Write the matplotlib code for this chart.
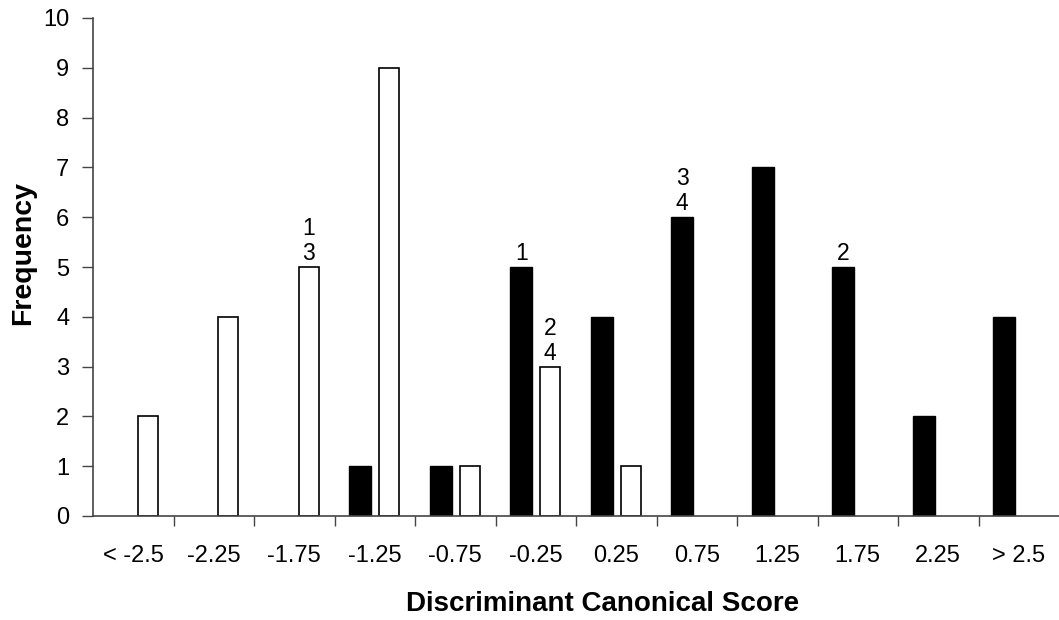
import matplotlib
matplotlib.use("Agg")
import matplotlib.pyplot as plt
import numpy as np

categories = ["< -2.5", "-2.25", "-1.75", "-1.25", "-0.75", "-0.25",
              "0.25", "0.75", "1.25", "1.75", "2.25", "> 2.5"]
black_vals = [0, 0, 0, 1, 1, 5, 4, 6, 7, 5, 2, 4]
white_vals = [2, 4, 5, 9, 1, 3, 1, 0, 0, 0, 0, 0]
# annotations: (category index, series, text)
annotations = [(2, "white", "1\n3"), (5, "black", "1"), (5, "white", "2\n4"),
               (7, "black", "3\n4"), (9, "black", "2")]

plt.rcParams['font.family'] = ['Liberation Sans', 'DejaVu Sans']

W, H = 1059, 620
fig = plt.figure(figsize=(W / 100, H / 100), dpi=100)
ax = fig.add_axes([93 / W, 1 - 516 / H, 966 / W, 498 / H])

x = np.arange(len(categories))
w = 0.27
off = 0.18
bw = [v if v > 0 else np.nan for v in black_vals]
ww = [v if v > 0 else np.nan for v in white_vals]
ax.bar(x - off, bw, width=w, color="black", edgecolor="black", linewidth=1)
ax.bar(x + off, ww, width=w - 0.02, color="white", edgecolor="black", linewidth=1.2)

for i, s, t in annotations:
    if s == "black":
        xp, yp = x[i] - off, black_vals[i]
    else:
        xp, yp = x[i] + off, white_vals[i]
    ax.text(xp, yp + 0.04, t, ha="center", va="bottom", fontsize=16.5,
            linespacing=1.1)

ax.set_xlim(-0.5, len(categories) - 0.5)
ax.set_ylim(0, 10)
ax.set_yticks(range(0, 11))
ax.tick_params(axis="y", labelsize=17, length=8, width=1, direction="out", pad=9, color="#444444")
ax.set_xticks(np.arange(0.5, len(categories) - 0.5, 1.0))
ax.set_xticklabels([])
ax.set_xticks(x, minor=True)
ax.set_xticklabels(categories, minor=True)
ax.tick_params(axis="x", which="major", length=7, width=1, direction="out", color="#444444")
ax.tick_params(axis="x", which="minor", length=0, labelsize=17, pad=21)

for sp in ["top", "right"]:
    ax.spines[sp].set_visible(False)
for sp in ["left", "bottom"]:
    ax.spines[sp].set_color("#444444")
    ax.spines[sp].set_linewidth(1.2)

fig.text(603 / W, 1 - 604 / H, "Discriminant Canonical Score", fontsize=20,
         fontweight="bold", ha="center", va="center")
fig.text(23 / W, 1 - 253 / H, "Frequency", fontsize=20.5, fontweight="bold",
         ha="center", va="center", rotation=90)

fig.savefig("out.png", dpi=100)
